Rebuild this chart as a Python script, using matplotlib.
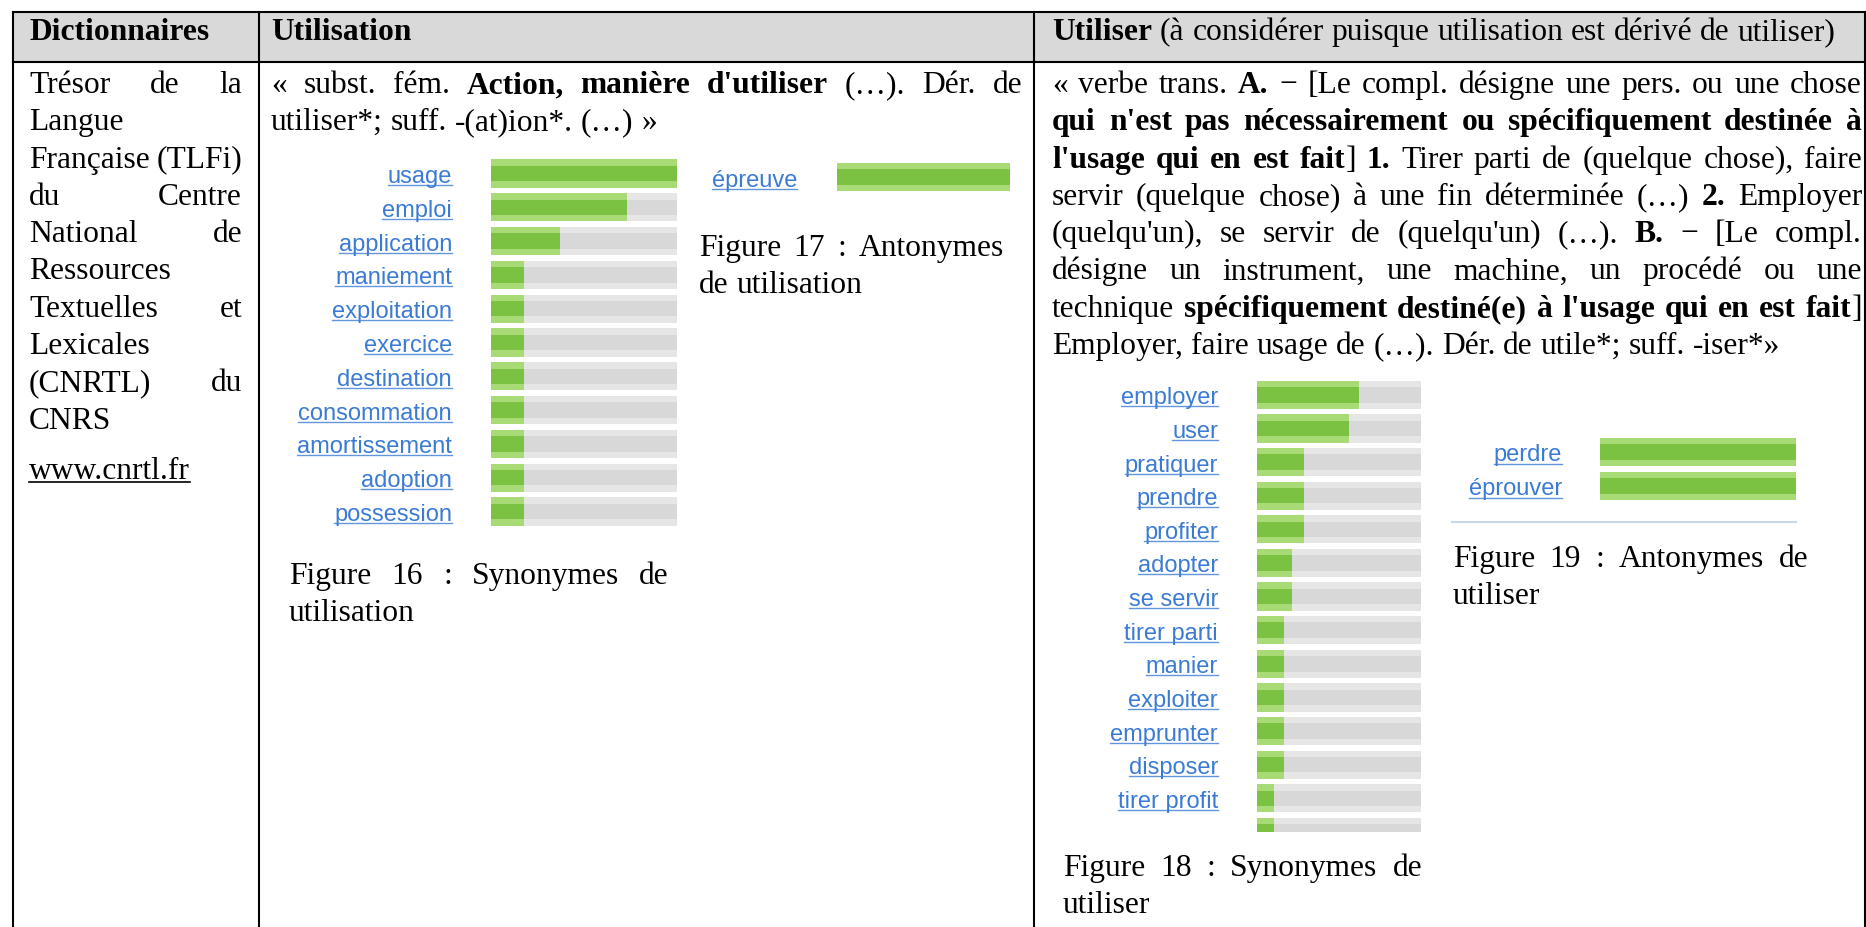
import matplotlib.pyplot as plt
import numpy as np
from matplotlib.font_manager import FontProperties
from matplotlib.patches import Rectangle

W, H, DPI = 1866, 928, 100
SERIF = ['Liberation Serif', 'DejaVu Serif']
SANS = ['Liberation Sans', 'DejaVu Sans']
BODY = 22.7
LABEL = 17
LINK = '#3b7bd4'

# Figure 16 : synonymes de utilisation
syn_utilisation = ['usage', 'emploi', 'application', 'maniement', 'exploitation', 'exercice',
                   'destination', 'consommation', 'amortissement', 'adoption', 'possession']
syn_utilisation_score = [1.0, 0.73, 0.37, 0.175, 0.175, 0.175, 0.175, 0.175, 0.175, 0.175, 0.175]

# Figure 17 : antonymes de utilisation
ant_utilisation = ['épreuve']
ant_utilisation_score = [1.0]

# Figure 18 : synonymes de utiliser (la derniere ligne est coupee dans la capture)
syn_utiliser = ['employer', 'user', 'pratiquer', 'prendre', 'profiter', 'adopter', 'se servir',
                'tirer parti', 'manier', 'exploiter', 'emprunter', 'disposer', 'tirer profit', '']
syn_utiliser_score = [0.62, 0.56, 0.285, 0.285, 0.285, 0.215, 0.215,
                      0.165, 0.165, 0.165, 0.165, 0.165, 0.105, 0.105]

# Figure 19 : antonymes de utiliser
ant_utiliser = ['perdre', 'éprouver']
ant_utiliser_score = [1.0, 1.0]

# texte du tableau, {...} = gras, True = ligne justifiee
headers = ['{Dictionnaires}', '{Utilisation}',
           '{Utiliser} (à considérer puisque utilisation est dérivé de utiliser)']
col_dico = [('Trésor de la', True), ('Langue', False), ('Française (TLFi)', True),
            ('du Centre', True), ('National de', True), ('Ressources', False),
            ('Textuelles et', True), ('Lexicales', False), ('(CNRTL) du', True), ('CNRS', False)]
col_utilisation = [("« subst. fém. {Action, manière d'utiliser} (…). Dér. de", True),
                   ('utiliser*; suff. -(at)ion*. (…) »', False)]
col_utiliser = [('« verbe trans. {A.} − [Le compl. désigne une pers. ou une chose', True),
                ("{qui n'est pas nécessairement ou spécifiquement destinée à}", True),
                ("{l'usage qui en est fait}] {1.} Tirer parti de (quelque chose), faire", True),
                ('servir (quelque chose) à une fin déterminée (…) {2.} Employer', True),
                ("(quelqu'un), se servir de (quelqu'un) (…). {B.} − [Le compl.", True),
                ('désigne un instrument, une machine, un procédé ou une', True),
                ("technique {spécifiquement destiné(e) à l'usage qui en est fait}]", True),
                ('Employer, faire usage de (…). Dér. de utile*; suff. -iser*»', False)]

fig = plt.figure(figsize=(W / DPI, H / DPI), dpi=DPI)
page = fig.add_axes([0, 0, 1, 1], zorder=0)
page.set_xlim(0, W)
page.set_ylim(H, 0)
page.axis('off')
renderer = fig.canvas.get_renderer()


def props(bold, size=BODY):
    return FontProperties(family=SERIF, size=size, weight='bold' if bold else 'normal')


def text_w(s, fp):
    return renderer.get_text_width_height_descent(s, fp, ismath=False)[0]


def parse(line):
    words, cur, buf, bold = [], [], '', False
    for ch in line:
        if ch in '{}':
            if buf:
                cur.append((buf, bold))
                buf = ''
            bold = ch == '{'
        elif ch == ' ':
            if buf:
                cur.append((buf, bold))
                buf = ''
            if cur:
                words.append(cur)
                cur = []
        else:
            buf += ch
    if buf:
        cur.append((buf, bold))
    if cur:
        words.append(cur)
    return words


def draw_line(line, x0, x1, y, justify=False, underline=False):
    words = parse(line)
    widths = [[text_w(t, props(b)) for t, b in w] for w in words]
    total = sum(sum(ws) for ws in widths)
    space = text_w('a a', props(False)) - text_w('aa', props(False))
    gap = (x1 - x0 - total) / (len(words) - 1) if justify and len(words) > 1 else space
    x = x0
    for w, ws in zip(words, widths):
        for (t, b), tw in zip(w, ws):
            page.text(x, y, t, fontproperties=props(b), va='baseline', ha='left', color='black')
            x += tw
        x += gap
    if underline:
        page.plot([x0, x - gap], [y + 4, y + 4], color='black', lw=1.2)


def draw_par(lines, x0, x1, y0, pitch=37.3):
    for i, (line, just) in enumerate(lines):
        draw_line(line, x0, x1, y0 + i * pitch, justify=just)


# tableau : fond de l'entete et bordures
page.add_patch(Rectangle((13, 13), W - 13, 50, facecolor='#d9d9d9', edgecolor='none'))
lw = 1.5
page.plot([13, W], [13, 13], color='black', lw=lw)
page.plot([13, W], [63, 63], color='black', lw=lw)
for xv in [13, 259, 1034, 1865]:
    page.plot([xv, xv], [13, H], color='black', lw=lw)

draw_line(headers[0], 29, 242, 40)
draw_line(headers[1], 271, 1022, 40)
draw_line(headers[2], 1052, 1862, 40)

draw_par(col_dico, 29, 242, 93)
draw_line('www.cnrtl.fr', 29, 242, 479, underline=True)
draw_par(col_utilisation, 271, 1022, 93)
draw_par(col_utiliser, 1052, 1862, 93)

# legendes des figures
draw_par([('Figure 16 : Synonymes de', True), ('utilisation', False)], 289, 669, 584)
draw_par([('Figure 17 : Antonymes', True), ('de utilisation', False)], 699, 1004, 256)
draw_par([('Figure 18 : Synonymes de', True), ('utiliser', False)], 1063, 1422, 876)
draw_par([('Figure 19 : Antonymes de', True), ('utiliser', False)], 1453, 1808, 567)
page.plot([1452, 1796], [523, 523], color='#c9d7ec', lw=1.5)


def mini_chart(labels, scores, label_right, x0, x1, y_first, pitch=34.0, y_clip=None):
    n = len(labels)
    top = y_first - pitch / 2
    bottom = y_clip if y_clip else y_first + (n - 0.5) * pitch
    ax = fig.add_axes([x0 / W, 1 - bottom / H, (x1 - x0) / W, (bottom - top) / H], zorder=1)
    ypos = np.arange(n)
    ax.barh(ypos, np.ones(n), height=0.84, color='#e6e6e6')
    ax.barh(ypos, np.ones(n), height=0.46, color='#d8d8d8')
    ax.barh(ypos, scores, height=0.84, color='#a8da76')
    ax.barh(ypos, scores, height=0.46, color='#7bc142')
    ax.set_xlim(0, 1)
    ax.set_ylim((bottom - y_first) / pitch, -0.5)
    ax.set_yticks(ypos, labels)
    ax.set_xticks([])
    ax.tick_params(axis='y', length=0, pad=(x0 - label_right) * 72 / DPI,
                   labelsize=LABEL, labelcolor=LINK)
    for lab in ax.get_yticklabels():
        lab.set_family(SANS)
    for s in ax.spines.values():
        s.set_visible(False)
    ax.set_facecolor('none')
    return ax


charts = [
    mini_chart(syn_utilisation, syn_utilisation_score, 452, 491, 677, 174.5, pitch=33.8),
    mini_chart(ant_utilisation, ant_utilisation_score, 797, 837, 1010, 178),
    mini_chart(syn_utiliser, syn_utiliser_score, 1218, 1257, 1421, 396, y_clip=833),
    mini_chart(ant_utiliser, ant_utiliser_score, 1562, 1600, 1796, 453),
]

# soulignement des liens
fig.canvas.draw()
for ax in charts:
    for lab in ax.get_yticklabels():
        if not lab.get_text():
            continue
        bb = lab.get_window_extent(renderer)
        fp = lab.get_fontproperties()
        d = max(renderer.get_text_width_height_descent('lp', fp, ismath=False)[2],
                renderer.get_text_width_height_descent(lab.get_text(), fp, ismath=False)[2])
        yb = H - (bb.y0 + d) + 3
        page.plot([bb.x0, bb.x1], [yb, yb], color=LINK, lw=1, alpha=0.8)

fig.savefig('out.png', dpi=DPI)
